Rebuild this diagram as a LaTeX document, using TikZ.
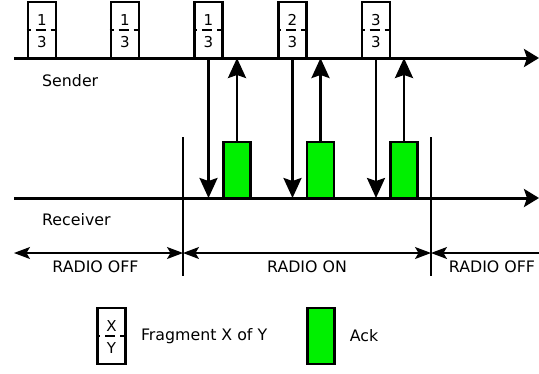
\documentclass[tikz,border=0pt]{standalone}
\usepackage{fontspec}
\setmainfont{DejaVu Sans}
\usepackage{xcolor}
\usetikzlibrary{arrows.meta,positioning,calc}
\definecolor{AckGreen}{HTML}{00F000}
\definecolor{Ink}{HTML}{000000}

% fragment box: name, centre, X, Y
\newcommand{\fragbox}[4]{%
  \node[frag] (#1) at #2 {};
  \draw[fragmid] (#1.west) -- (#1.east);
  \node[digit] (#1-x) at ($(#1.center)+(0,-10)$) {#3};
  \node[digit] (#1-y) at ($(#1.center)+(0,12)$) {#4};
}

\begin{document}
\begin{tikzpicture}[
  x=1pt,y=-1pt,
  frag/.style={draw=Ink,line width=2.6pt,minimum width=28pt,minimum height=56pt,inner sep=0pt},
  fragmid/.style={line width=2.6pt,dash pattern=on 4pt off 5pt on 10pt off 5pt on 4pt off 0pt},
  digit/.style={inner sep=0pt,font=\fontsize{15}{15}\selectfont},
  ack/.style={draw=Ink,fill=AckGreen,line width=2.2pt,minimum width=27pt,minimum height=56pt,inner sep=0pt},
  lbl/.style={inner sep=0pt,font=\fontsize{15.8}{18}\selectfont},
  axis/.style={line width=3pt,-{Stealth[length=15pt,width=18pt,inset=3pt]}},
  sig/.style={line width=2.6pt,-{Stealth[length=20pt,width=18pt,inset=3pt]}},
  edgeline/.style={line width=1.3pt},
  span/.style={line width=1.1pt,{Stealth[length=16pt,width=12pt,inset=3.5pt]}-{Stealth[length=16pt,width=12pt,inset=3.5pt]}},
  spanl/.style={line width=1.1pt,{Stealth[length=16pt,width=12pt,inset=3.5pt]}-}
]
\useasboundingbox (0,0) rectangle (539,373);
% time lines
\coordinate (snd0) at (14,58);
\coordinate (snd1) at (539,58);
\coordinate (rcv0) at (14,198);
\coordinate (rcv1) at (539,198);
\draw[axis] (snd0) -- (snd1);
\draw[axis] (rcv0) -- (rcv1);
\node[lbl,anchor=west] (sender) at (42,81) {Sender};
\node[lbl,anchor=west] (receiver) at (42,220) {Receiver};
% fragments and acks
\fragbox{f1}{(42,30)}{1}{3}
\fragbox{f2}{(125,30)}{1}{3}
\fragbox{f3}{(208.5,30)}{1}{3}
\fragbox{f4}{(292.5,30)}{2}{3}
\fragbox{f5}{(376,30)}{3}{3}
\node[ack] (a1) at (237,170) {};
\node[ack] (a2) at (320.5,170) {};
\node[ack] (a3) at (404,170) {};
\foreach \f/\a in {f3/a1,f4/a2,f5/a3}{
  \draw[sig] (\f.south) -- (\f.south |- rcv0);
  \draw[sig] (\a.north) -- (\a.north |- snd0);
}
% radio on/off
\coordinate (on0) at (183,137);
\coordinate (on1) at (431,137);
\draw[edgeline] (on0) -- ++(0,139) coordinate (on0b);
\draw[edgeline] (on1) -- ++(0,139) coordinate (on1b);
\coordinate (d0) at (14,253);
\coordinate (d1) at (on0 |- d0);
\coordinate (d2) at (on1 |- d0);
\coordinate (d3) at (539,253);
\draw[span] (d0) -- (d1);
\draw[span] (d1) -- (d2);
\draw[spanl] (d2) -- (d3);
\node[lbl] (off1) at (95.5,267) {RADIO OFF};
\node[lbl] (on) at (307,267) {RADIO ON};
\node[lbl] (off2) at (492,267) {RADIO OFF};
% legend
\fragbox{lf}{(111.5,336)}{X}{Y}
\node[lbl,right=14pt of lf] (lftext) {Fragment X of Y};
\node[ack] (la) at (321,336) {};
\node[lbl,right=14pt of la] (latext) {Ack};
\end{tikzpicture}
\end{document}
